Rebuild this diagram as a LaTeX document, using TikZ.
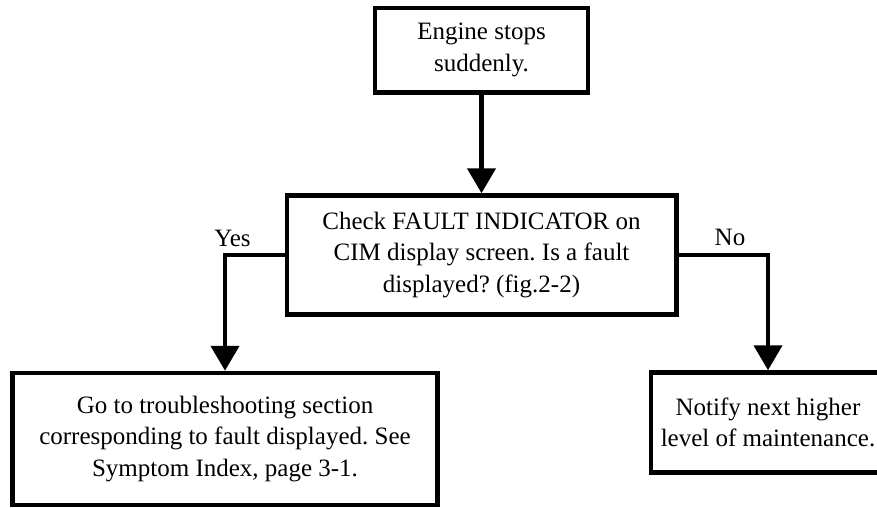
\documentclass[tikz,border=0pt]{standalone}
\usepackage{fontspec}
\setmainfont{Liberation Serif}
\usetikzlibrary{arrows.meta}
\frenchspacing
\tikzset{
  box/.style={draw, line width=4.5pt, inner sep=0pt, align=center,
    font=\fontsize{25pt}{31.7pt}\selectfont},
  lbl/.style={inner sep=0pt, anchor=base, font=\fontsize{25pt}{31.7pt}\selectfont},
  conn/.style={line width=4.5pt, -{Triangle[width=28pt,length=25pt]}}
}
\begin{document}
\begin{tikzpicture}[x=1pt,y=-1pt]
\clip (0,0) rectangle (877,508);
\fill[white] (0,0) rectangle (877,508);
\node[box, minimum width=213pt, minimum height=84.5pt] (top) at (481.5,50.25)
  {Engine stops\\suddenly.};
\node[box, minimum width=389.5pt, minimum height=119pt] (mid) at (481.5,255)
  {Check FAULT INDICATOR on\\CIM display screen. Is a fault\\displayed? (fig.2-2)};
\node[box, minimum width=425pt, minimum height=132pt] (left) at (225,439)
  {Go to troubleshooting section\\corresponding to fault displayed. See\\Symptom Index, page 3-1.};
\node[box, minimum width=234pt, minimum height=100pt] (right) at (768,422.5)
  {Notify next higher\\level of maintenance.};
\node[lbl] (yes) at (232.5,246) {Yes};
\node[lbl] (no) at (730,245) {No};
\draw[conn] (top.south) -- (mid.north);
\draw[conn] (mid.west) -| (left.north);
\draw[conn] (mid.east) -| (right.north);
\end{tikzpicture}
\end{document}
